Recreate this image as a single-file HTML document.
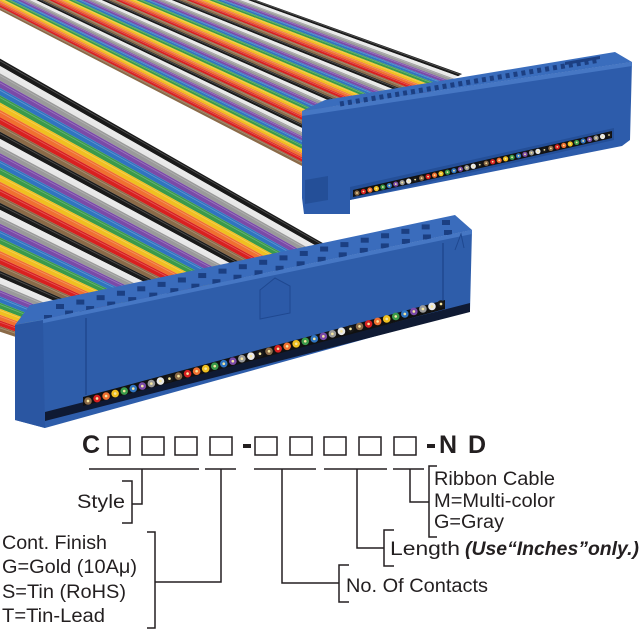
<!DOCTYPE html>
<html><head><meta charset="utf-8"><style>
html,body{margin:0;padding:0;background:#fff;}
svg{display:block;}
text{font-family:"Liberation Sans",Arial,sans-serif;fill:#231f20;}
</style></head><body>
<svg id="s" width="640" height="640" viewBox="0 0 640 640" xmlns="http://www.w3.org/2000/svg">
<g id="rib1"></g>
<g id="rib2"></g>
<!-- upper connector -->
<g id="c1">
<polygon points="302,111 325,100 615,52 632,62" fill="#3a6dbd"/>
<polygon points="302,111 632,62 630,140 622,146 350,200 350,214 304,214 302,198" fill="#2d5cab"/>
<polygon points="302,111 632,62 632,66 302,116" fill="#4677c4"/>
<polygon points="305,180 328,176 328,200 305,204" fill="#244f98"/>
<polygon points="350,187 614,128 614,140 350,200" fill="#244f98"/>
<polygon points="353,190 612,131 612,138 353,197" fill="#111"/>
<g id="d1"></g>
<line x1="340" y1="104" x2="600" y2="60" stroke="#1c3f82" stroke-width="5" stroke-dasharray="4 4"/>
<polygon points="565,62 600,56 600,59 565,65" fill="#1c3f82"/>
</g>
<!-- lower connector -->
<g id="c2">
<polygon points="15,325 30,305 455,215 472,230" fill="#3a6cbc"/>
<g id="holes"></g>
<polygon points="15,325 472,230 470,310 45,428 15,420" fill="#2e5daa"/>
<polygon points="15,325 472,230 472,234 15,329" fill="#4677c4"/>
<polygon points="15,325 43,320 45,428 15,420" fill="#2a56a2"/>
<line x1="86" y1="318" x2="86" y2="395" stroke="#234d96" stroke-width="2"/>
<line x1="443" y1="243" x2="443" y2="300" stroke="#234d96" stroke-width="2"/>
<polygon points="45,412 470,303 470,312 45,421" fill="#0f1a33"/>
<polygon points="83,397 445,300 445,309 83,406" fill="#111"/>
<g id="d2"></g>
<polygon points="260,290 275,278 290,286 290,313 260,319" fill="#2c5aa8" stroke="#1f4890" stroke-width="1"/>
<path d="M455,250 L461,234 L464,248" fill="none" stroke="#1f4890" stroke-width="1"/>
</g>
<!-- code -->
<text x="82" y="453" font-size="25" font-weight="bold">C</text>
<g fill="none" stroke="#231f20" stroke-width="1.5">
<rect x="108" y="437" width="22" height="18"/><rect x="142" y="437" width="22" height="18"/>
<rect x="175" y="437" width="22" height="18"/><rect x="210" y="437" width="22" height="18"/>
<rect x="255" y="437" width="22" height="18"/><rect x="290" y="437" width="22" height="18"/>
<rect x="324" y="437" width="22" height="18"/><rect x="359" y="437" width="22" height="18"/>
<rect x="394" y="437" width="22" height="18"/>
</g>
<rect x="243" y="444" width="8" height="4" fill="#231f20"/>
<rect x="427" y="444" width="8" height="4" fill="#231f20"/>
<text x="439" y="453" font-size="25" font-weight="bold" textLength="47" lengthAdjust="spacing">ND</text>
<g fill="none" stroke="#231f20" stroke-width="1.5">
<line x1="89" y1="469" x2="199" y2="469"/><line x1="205" y1="469" x2="236" y2="469"/>
<line x1="254" y1="469" x2="316" y2="469"/><line x1="324" y1="469" x2="387" y2="469"/>
<line x1="393" y1="469" x2="424" y2="469"/>
<polyline points="142,469 142,504 132,504"/>
<polyline points="122,481 132,481 132,523 122,523"/>
<polyline points="221,469 221,582 155,582"/>
<polyline points="147,532 155,532 155,628 147,628"/>
<polyline points="282,469 282,583 339,583"/>
<polyline points="349,565 339,565 339,602 349,602"/>
<polyline points="357,469 357,548 384,548"/>
<polyline points="394,530 384,530 384,566 394,566"/>
<polyline points="410,469 410,502 429,502"/>
<polyline points="437,466 429,466 429,537 437,537"/>
</g>
<g font-size="19">
<text x="77" y="508" textLength="48" lengthAdjust="spacingAndGlyphs">Style</text>
<text x="2" y="549" textLength="105" lengthAdjust="spacingAndGlyphs">Cont. Finish</text>
<text x="2" y="573" textLength="135" lengthAdjust="spacingAndGlyphs">G=Gold (10Aμ)</text>
<text x="2" y="598" textLength="124" lengthAdjust="spacingAndGlyphs">S=Tin (RoHS)</text>
<text x="2" y="622" textLength="103" lengthAdjust="spacingAndGlyphs">T=Tin-Lead</text>
<text x="346" y="592" textLength="142" lengthAdjust="spacingAndGlyphs">No. Of Contacts</text>
<text x="390" y="555" textLength="70" lengthAdjust="spacingAndGlyphs">Length</text>
<text x="465" y="555" font-weight="bold" font-style="italic" textLength="174" lengthAdjust="spacingAndGlyphs">(Use“Inches”only.)</text>
<text x="434" y="485" textLength="121" lengthAdjust="spacingAndGlyphs">Ribbon Cable</text>
<text x="434" y="507" textLength="121" lengthAdjust="spacingAndGlyphs">M=Multi-color</text>
<text x="434" y="528" textLength="70" lengthAdjust="spacingAndGlyphs">G=Gray</text>
</g>
</svg>
<script>
(function(){
var NS="http://www.w3.org/2000/svg";
var cols=["#1a1a1a","#e8e8e8","#9a9a9a","#7a4aa8","#2f74c0","#3a9a4a","#f0c020","#f07030","#d82020","#8a6a48"];
function el(t,a,p){var e=document.createElementNS(NS,t);for(var k in a)e.setAttribute(k,a[k]);p.appendChild(e);return e;}
function lerp(a,b,t){return [a[0]+(b[0]-a[0])*t,a[1]+(b[1]-a[1])*t];}
function ribbon(g,L0,L1,R0,R1,N){
  for(var i=0;i<N;i++){
    var t0=i/N,t1=(i+1)/N;
    var a=lerp(L0,L1,t0),b=lerp(R0,R1,t0),c=lerp(R0,R1,t1),d=lerp(L0,L1,t1);
    el("polygon",{points:a+" "+b+" "+c+" "+d,fill:cols[i%10]},g);
    var m0=lerp(L0,L1,(t0*0.7+t1*0.3)),m1=lerp(R0,R1,(t0*0.7+t1*0.3));
    el("line",{x1:m0[0],y1:m0[1],x2:m1[0],y2:m1[1],stroke:"rgba(255,255,255,0.25)","stroke-width":0.8},g);
  }
}
ribbon(document.getElementById("rib1"),[150,-38],[-20,0],[462,74],[302,166],40);
ribbon(document.getElementById("rib2"),[-80,13],[-120,292],[335,250],[40,345],40);
function dots(g,p0,p1,n,r){
  for(var i=0;i<n;i++){var p=lerp(p0,p1,i/(n-1));var c=cols[(9-i%10+10)%10];
    el("circle",{cx:p[0],cy:p[1],r:r,fill:c},g);
    el("circle",{cx:p[0],cy:p[1],r:r*0.35,fill:"#f5e6a0"},g);}
}
dots(document.getElementById("d1"),[357,193],[609,135],40,2.6);
dots(document.getElementById("d2"),[88,401],[441,304],40,3.8);
var h=document.getElementById("holes");
for(var i=0;i<20;i++){
  var a=lerp([48,318],[448,233],i/19),b=lerp([60,307],[446,223],i/19);
  el("rect",{x:a[0]-4,y:a[1]-3,width:8,height:5,fill:"#1b3f82"},h);
  el("rect",{x:b[0]-4,y:b[1]-3,width:8,height:5,fill:"#1b3f82"},h);
}
})();
</script>
</body></html>
